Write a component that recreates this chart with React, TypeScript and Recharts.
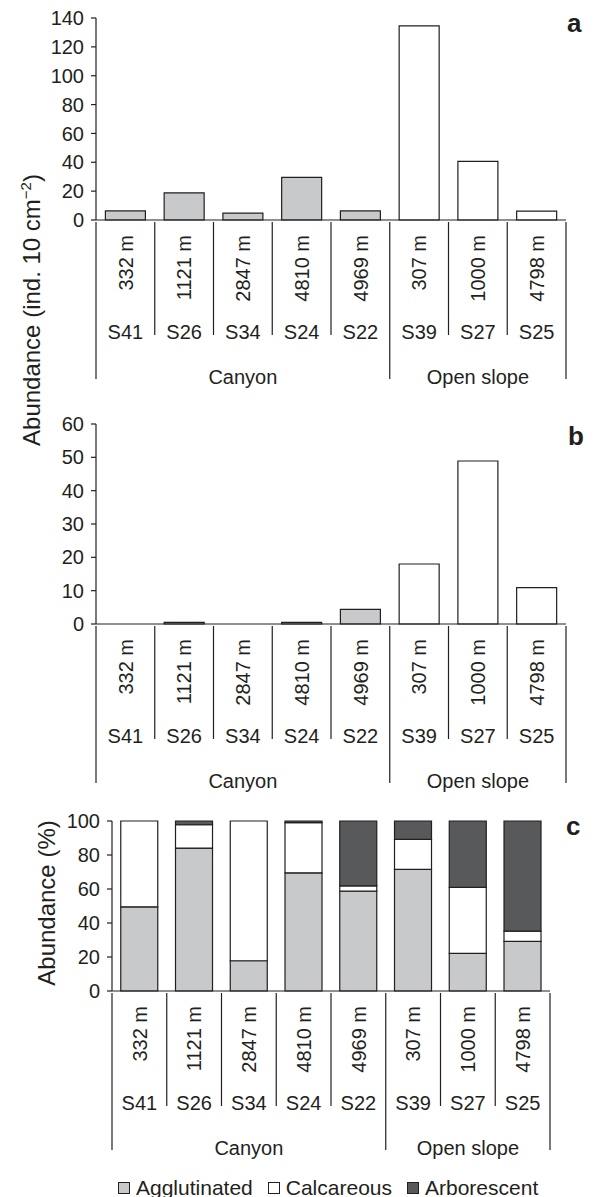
import React from 'react';
import { BarChart, Bar, XAxis, YAxis, Cell } from 'recharts';

const depths = ['332 m', '1121 m', '2847 m', '4810 m', '4969 m', '307 m', '1000 m', '4798 m'];
const stations = ['S41', 'S26', 'S34', 'S24', 'S22', 'S39', 'S27', 'S25'];
const settings = ['Canyon', 'Canyon', 'Canyon', 'Canyon', 'Canyon', 'Open slope', 'Open slope', 'Open slope'];

// panel a / b: abundance (ind. 10 cm-2)
const densityA = [6.3, 18.8, 4.7, 29.6, 6.3, 134.5, 40.7, 6.1];
const densityB = [0, 0.5, 0, 0.5, 4.4, 18, 48.9, 10.9];

// panel c: relative abundance (%)
const agglutinated = [49.5, 84.1, 17.8, 69.5, 58.7, 71.6, 22.1, 29.2];
const calcareous = [50.5, 13.7, 82.2, 29.5, 3.1, 17.6, 38.8, 6.0];
const arborescent = [0, 2.2, 0, 1.0, 38.2, 10.8, 39.1, 64.8];

const ticksA = [0, 20, 40, 60, 80, 100, 120, 140];
const ticksB = [0, 10, 20, 30, 40, 50, 60];
const ticksC = [0, 20, 40, 60, 80, 100];

const INK = '#231f20';
const GREY = '#c8c9cb';
const DARK = '#58595b';
const FONT = '"Liberation Sans", Arial, Helvetica, sans-serif';

const fillFor = (s: string) => (s === 'Canyon' ? GREY : '#ffffff');

const dataA = stations.map((st, i) => ({ station: st, value: densityA[i] }));
const dataB = stations.map((st, i) => ({ station: st, value: densityB[i] }));
const dataC = stations.map((st, i) => ({
  station: st,
  agg: agglutinated[i],
  calc: calcareous[i],
  arb: arborescent[i],
}));

function makeTick(band: number) {
  return function SiteTick(props: any) {
    const { x, y, payload } = props;
    const i = stations.indexOf(payload.value);
    const left = x - band / 2;
    const right = x + band / 2;
    const groupStart = i === 0 || settings[i] !== settings[i - 1];
    const isLast = i === stations.length - 1;
    const groupSize = settings.filter((s) => s === settings[i]).length;
    return (
      <g>
        <line x1={left} x2={left} y1={y} y2={y + (groupStart ? 157 : 113)} stroke={INK} strokeWidth={1.2} />
        {isLast && <line x1={right} x2={right} y1={y} y2={y + 157} stroke={INK} strokeWidth={1.2} />}
        <text
          x={x}
          y={y + 13}
          transform={`rotate(-90, ${x}, ${y + 13})`}
          textAnchor="end"
          dy="0.36em"
          fontSize={20}
          fill={INK}
        >
          {depths[i]}
        </text>
        <text x={x} y={y + 117} textAnchor="middle" fontSize={20} fill={INK}>
          {stations[i]}
        </text>
        {groupStart && (
          <text x={x + ((groupSize - 1) * band) / 2} y={y + 162} textAnchor="middle" fontSize={20} fill={INK}>
            {settings[i]}
          </text>
        )}
      </g>
    );
  };
}

const yTick = { fontSize: 20, fill: INK, fontFamily: FONT };

export default function App() {
  const bandAB = (593 - 96 - 27) / stations.length;
  const bandC = (593 - 112 - 43) / stations.length;

  return (
    <div style={{ position: 'absolute', left: 0, top: 0, width: 593, height: 1197, background: '#fff', fontFamily: FONT }}>
      <div style={{ position: 'absolute', left: 0, top: 0 }}>
        <BarChart width={593} height={400} data={dataA} margin={{ top: 18, right: 27, left: 0, bottom: 10 }} barCategoryGap="16%">
          <XAxis dataKey="station" height={170} interval={0} tickSize={0} tickLine={false} axisLine={{ stroke: INK, strokeWidth: 1.2 }} tick={makeTick(bandAB)} />
          <YAxis width={96} domain={[0, 140]} ticks={ticksA} interval={0} tickSize={5} tickMargin={7} tick={yTick}
            axisLine={{ stroke: INK, strokeWidth: 1.2 }} tickLine={{ stroke: INK, strokeWidth: 1.2 }} />
          <Bar dataKey="value" stroke={INK} strokeWidth={1.2} isAnimationActive={false}>
            {dataA.map((d, i) => <Cell key={d.station} fill={fillFor(settings[i])} />)}
          </Bar>
        </BarChart>
      </div>

      <div style={{ position: 'absolute', left: 0, top: 400 }}>
        <BarChart width={593} height={410} data={dataB} margin={{ top: 24, right: 27, left: 0, bottom: 20 }} barCategoryGap="16%">
          <XAxis dataKey="station" height={166} interval={0} tickSize={0} tickLine={false} axisLine={{ stroke: INK, strokeWidth: 1.2 }} tick={makeTick(bandAB)} />
          <YAxis width={96} domain={[0, 60]} ticks={ticksB} interval={0} tickSize={5} tickMargin={7} tick={yTick}
            axisLine={{ stroke: INK, strokeWidth: 1.2 }} tickLine={{ stroke: INK, strokeWidth: 1.2 }} />
          <Bar dataKey="value" stroke={INK} strokeWidth={1.2} isAnimationActive={false}>
            {dataB.map((d, i) => <Cell key={d.station} fill={fillFor(settings[i])} />)}
          </Bar>
        </BarChart>
      </div>

      <div style={{ position: 'absolute', left: 0, top: 790 }}>
        <BarChart width={593} height={381} data={dataC} margin={{ top: 31, right: 43, left: 0, bottom: 20 }} barCategoryGap="16%">
          <XAxis dataKey="station" height={160} interval={0} tickSize={0} tickLine={false} axisLine={{ stroke: INK, strokeWidth: 1.2 }} tick={makeTick(bandC)} />
          <YAxis width={112} domain={[0, 100]} ticks={ticksC} interval={0} tickSize={5} tickMargin={7} tick={yTick}
            axisLine={{ stroke: INK, strokeWidth: 1.2 }} tickLine={{ stroke: INK, strokeWidth: 1.2 }} />
          <Bar dataKey="agg" stackId="s" fill={GREY} stroke={INK} strokeWidth={1.2} isAnimationActive={false} />
          <Bar dataKey="calc" stackId="s" fill="#ffffff" stroke={INK} strokeWidth={1.2} isAnimationActive={false} />
          <Bar dataKey="arb" stackId="s" fill={DARK} stroke={INK} strokeWidth={1.2} isAnimationActive={false} />
        </BarChart>
      </div>

      <svg width={593} height={1197} style={{ position: 'absolute', left: 0, top: 0, pointerEvents: 'none' }} fontFamily={FONT}>
        <text transform="translate(31,310) rotate(-90)" textAnchor="middle" dy="0.36em" fontSize={24} fill={INK}>
          Abundance (ind. 10 cm
          <tspan dy={-9} fontSize={15}>−2</tspan>
          <tspan dy={9}>)</tspan>
        </text>
        <text transform="translate(46,903) rotate(-90)" textAnchor="middle" dy="0.36em" fontSize={24} fill={INK}>
          Abundance (%)
        </text>
        <text x={567} y={32} fontSize={26} fontWeight="bold" fill={INK}>a</text>
        <text x={568} y={445} fontSize={26} fontWeight="bold" fill={INK}>b</text>
        <text x={566} y={835} fontSize={26} fontWeight="bold" fill={INK}>c</text>
      </svg>

      <div style={{ position: 'absolute', left: 118, top: 1176, display: 'flex', alignItems: 'center', gap: 15, fontSize: 21, color: INK, lineHeight: '24px' }}>
        {[
          { label: 'Agglutinated', fill: GREY },
          { label: 'Calcareous', fill: '#ffffff' },
          { label: 'Arborescent', fill: DARK },
        ].map((it) => (
          <div key={it.label} style={{ display: 'flex', alignItems: 'center', gap: 6 }}>
            <span style={{ width: 10, height: 10, background: it.fill, border: `1px solid ${INK}`, display: 'inline-block' }} />
            <span>{it.label}</span>
          </div>
        ))}
      </div>
    </div>
  );
}
